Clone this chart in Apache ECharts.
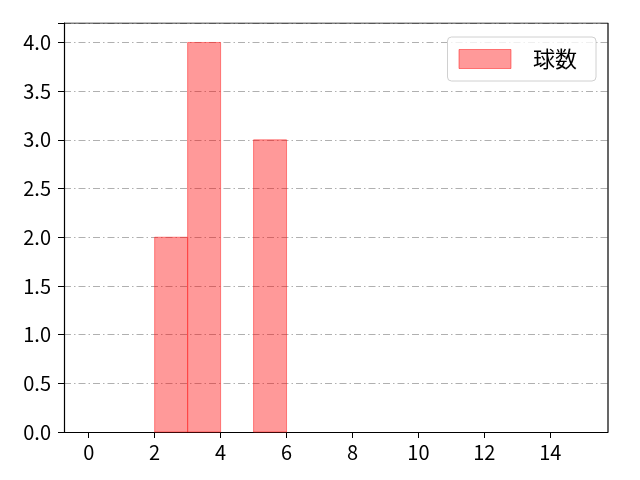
<!DOCTYPE html>
<html>
<head>
<meta charset="utf-8">
<script src="https://cdn.jsdelivr.net/npm/echarts@6/dist/echarts.min.js"></script>
<style>
  html, body { margin: 0; padding: 0; background: #fff; }
  #chart { width: 640px; height: 480px; }
</style>
</head>
<body>
<div id="chart"></div>
<script>
// ヒストグラムのビン (左端, 右端) と度数
var binStart = [2, 3, 5];
var binEnd = [3, 4, 6];
var counts = [2, 4, 3];
var xTicks = [0, 2, 4, 6, 8, 10, 12, 14];
var seriesName = '球数';

var myChart = echarts.init(document.getElementById('chart'));
var font = '"Noto Sans CJK JP", "Noto Sans", sans-serif';
var gridLine = { color: '#b0b0b0', width: 1, type: [7, 3, 1.5, 3] };

var data = binStart.map(function (s, i) {
    return [s, binEnd[i], counts[i]];
});

var option = {
    animation: false,
    backgroundColor: '#fff',
    grid: { left: 64, right: 32, top: 23, bottom: 48, show: false },
    legend: {
        right: 44,
        top: 37,
        orient: 'vertical',
        padding: [11, 19, 11, 11],
        itemWidth: 52,
        itemHeight: 19,
        itemGap: 10,
        borderColor: '#d0d0d0',
        borderWidth: 1,
        borderRadius: 4,
        backgroundColor: 'rgba(255,255,255,0.8)',
        textStyle: { fontFamily: font, fontSize: 22, color: '#000', padding: [0, 0, 0, 17] },
        data: [{
            name: seriesName, icon: 'rect',
            itemStyle: { color: 'rgba(255,0,0,0.4)', borderColor: 'rgba(255,0,0,0.45)', borderWidth: 1 }
        }]
    },
    xAxis: {
        type: 'value',
        min: -0.75,
        max: 15.75,
        axisLine: { show: true, onZero: false, lineStyle: { color: '#000', width: 1.2 } },
        axisTick: { show: true, length: 6, customValues: xTicks, lineStyle: { color: '#000' } },
        axisLabel: { customValues: xTicks, color: '#000', fontSize: 20, fontFamily: font, margin: 10 },
        splitLine: { show: false }
    },
    yAxis: {
        type: 'value',
        min: 0,
        max: 4.2,
        interval: 0.5,
        axisLine: { show: true, onZero: false, lineStyle: { color: '#000', width: 1.2 } },
        axisTick: { show: true, length: 6, lineStyle: { color: '#000' } },
        axisLabel: {
            color: '#000', fontSize: 20, fontFamily: font, margin: 13,
            formatter: function (v) { return v > 4.1 ? '' : v.toFixed(1); }
        },
        splitLine: { show: true, lineStyle: gridLine }
    },
    series: [
        {
            name: seriesName,
            type: 'custom',
            itemStyle: { color: 'rgba(255,0,0,0.4)' },
            renderItem: function (params, api) {
                var p0 = api.coord([api.value(0), api.value(2)]);
                var p1 = api.coord([api.value(1), 0]);
                return {
                    type: 'rect',
                    shape: { x: p0[0], y: p0[1], width: p1[0] - p0[0], height: p1[1] - p0[1] },
                    style: { fill: 'rgba(255,0,0,0.4)', stroke: 'rgba(255,30,30,0.5)', lineWidth: 1 }
                };
            },
            encode: { x: [0, 1], y: 2 },
            data: data
        },
        {
            // 上と右の枠線
            type: 'line',
            silent: true,
            symbol: 'none',
            lineStyle: { color: '#000', width: 1.2 },
            data: [[-0.75, 4.2], [15.75, 4.2], [15.75, 0]],
            z: 5
        }
    ]
};

myChart.setOption(option);
window.addEventListener('resize', function () {
    myChart.resize();
});
</script>
</body>
</html>
